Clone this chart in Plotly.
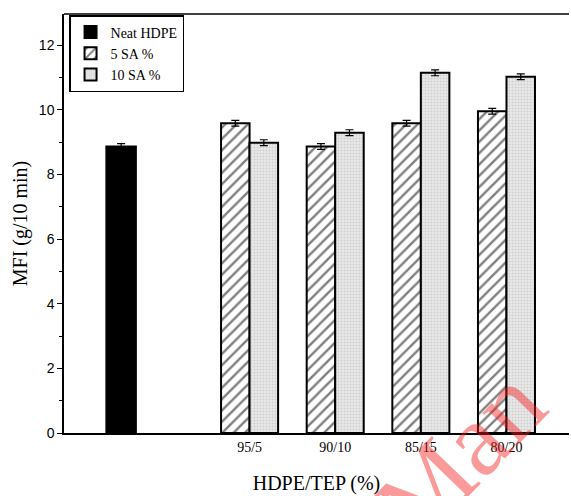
import plotly.graph_objects as go

# Melt flow index data
groups = ["95/5", "90/10", "85/15", "80/20"]
group_pos = [2, 3, 4, 5]
neat_pos = [0.5]
neat_mfi = [8.87]
neat_err = [0.08]
sa5_mfi = [9.58, 8.86, 9.58, 9.95]
sa5_err = [0.09, 0.09, 0.09, 0.09]
sa10_mfi = [8.98, 9.29, 11.14, 11.02]
sa10_err = [0.09, 0.09, 0.09, 0.09]

serif = "Liberation Serif, Times New Roman, serif"
sans = "Liberation Sans, Arial, sans-serif"

err_style = dict(type="data", visible=True, color="black", thickness=1.2, width=4)

fig = go.Figure()
fig.add_trace(go.Bar(
    x=neat_pos, y=neat_mfi, name="Neat HDPE",
    width=0.35, offset=-0.175,
    marker=dict(color="black", line=dict(color="black", width=1.5)),
    error_y=dict(array=neat_err, **err_style),
))
fig.add_trace(go.Bar(
    x=group_pos, y=sa5_mfi, name="5 SA %",
    width=0.333, offset=-0.333,
    marker=dict(color="white", line=dict(color="black", width=2),
                pattern=dict(shape="/", fgcolor="black", bgcolor="white",
                             size=8, solidity=0.3)),
    error_y=dict(array=sa5_err, **err_style),
))
fig.add_trace(go.Bar(
    x=group_pos, y=sa10_mfi, name="10 SA %",
    width=0.333, offset=0,
    marker=dict(color="#e6e6e6", line=dict(color="black", width=2),
                pattern=dict(shape=".", fgcolor="#b4b4b4", bgcolor="#e8e8e8",
                             size=3, solidity=0.3)),
    error_y=dict(array=sa10_err, **err_style),
))

# Faint red watermark in the lower right corner
fig.add_annotation(
    text="Man", xref="paper", yref="paper",
    x=(570 - 64) / 505, y=1 - (566 - 14) / 419,
    showarrow=False, textangle=-46,
    font=dict(family=serif, size=104, color="rgba(245,30,30,0.45)"),
)

# Top frame line
fig.add_shape(type="line", xref="paper", yref="paper", x0=0, x1=1, y0=1, y1=1,
              line=dict(color="black", width=1.5))

fig.update_layout(
    width=571, height=496,
    margin=dict(l=64, r=2, t=14, b=63),
    paper_bgcolor="white", plot_bgcolor="white",
    barmode="overlay",
    showlegend=True,
    legend=dict(
        x=0.01, y=0.9976, xanchor="left", yanchor="top",
        bordercolor="black", borderwidth=1.5, bgcolor="white",
        font=dict(family=serif, size=14, color="black"),
        tracegroupgap=0, itemsizing="constant",
    ),
)
fig.update_xaxes(
    range=[-0.167, 5.73], automargin=False,
    tickvals=group_pos, ticktext=groups,
    tickfont=dict(family=serif, size=14, color="black"),
    ticks="", showgrid=False, zeroline=False,
    showline=True, linecolor="black", linewidth=1.5, mirror=False,
    title=dict(text="HDPE/TEP (%)", font=dict(family=serif, size=20, color="black"),
               standoff=22),
)
fig.update_yaxes(
    range=[0, 12.96], automargin=False,
    tickvals=[0, 2, 4, 6, 8, 10, 12],
    tickfont=dict(family=sans, size=14, color="black"),
    ticks="outside", ticklen=5, tickwidth=1.2, tickcolor="black",
    minor=dict(tickvals=[1, 3, 5, 7, 9, 11], ticks="outside", ticklen=3,
               tickwidth=1.2, tickcolor="black"),
    showgrid=False, zeroline=False,
    showline=True, linecolor="black", linewidth=1.5, mirror=False,
    title=dict(text="MFI (g/10 min)", font=dict(family=serif, size=20, color="black"),
               standoff=6),
)

fig.write_html("out.html")
